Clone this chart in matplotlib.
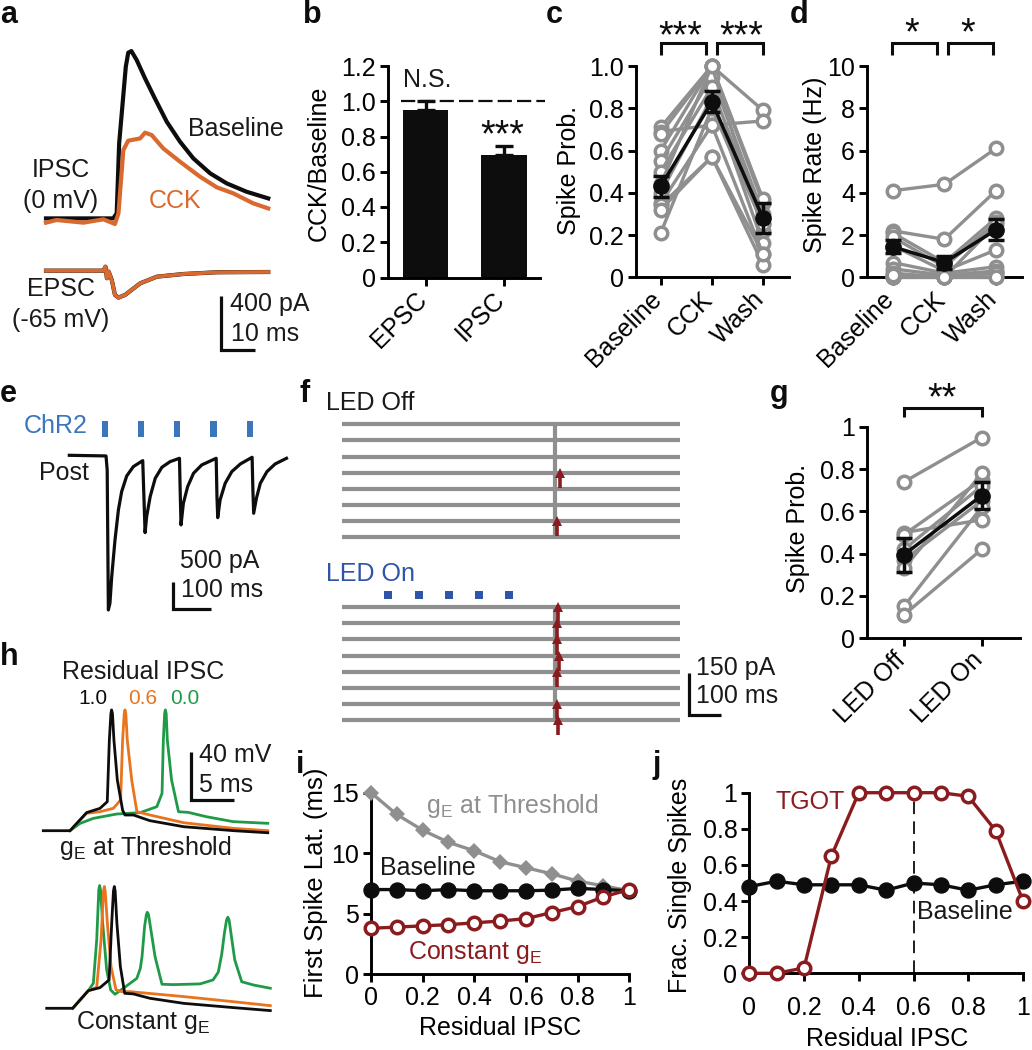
import numpy as np
import matplotlib
matplotlib.use("Agg")
import matplotlib.pyplot as plt
from matplotlib.transforms import ScaledTranslation

FS = 18

plt.rcParams['font.family'] = ['Liberation Sans', 'DejaVu Sans']
plt.rcParams['mathtext.default'] = 'regular'
plt.rcParams['font.size'] = FS
plt.rcParams['axes.linewidth'] = 2.1
plt.rcParams['text.color'] = '#1a1a1a'

W, H = 1032, 1050

BLACK = '#0d0d0d'
GREY = '#8f8f8f'
CCK_ORANGE = '#d9692e'
ORANGE = '#e8741e'
GREEN = '#1f9a48'
RED = '#8a1c20'
BLUE = '#3b75bb'
LED_BLUE = '#2f55a8'

# a: IPSC / EPSC traces (ms, pA)
ipsc_base_t = [0, 19.2, 20.2, 20.9, 22.8, 23.5, 24.4, 25.9, 28.3, 31.1, 34.5, 38.3, 42.1, 46.9, 51.6, 57.3, 63.5]
ipsc_base_v = [12, 12, 50, 575, 1150, 1255, 1267, 1200, 1062, 912, 737, 587, 462, 350, 275, 212, 162]
ipsc_cck_t = [0, 3, 10.7, 16.4, 19.7, 20.7, 22.1, 23.5, 26.9, 28.3, 30.2, 33.5, 38.3, 44, 48.8, 53.5, 59.2, 63.5]
ipsc_cck_v = [-20, 0, -20, 5, -30, 50, 525, 595, 612, 655, 637, 537, 437, 325, 245, 200, 125, 87]
epsc_t = [0, 16.4, 17, 17.4, 17.9, 18.8, 19.7, 20.7, 22.6, 26.9, 31.7, 39.3, 48.8, 63.5]
epsc_v = [0, 0, 30, -57, -7, -70, -182, -202, -182, -95, -45, -25, -12, -10]

# b
b_labels = ['EPSC', 'IPSC']
b_means = [0.95, 0.695]
b_errs = [0.05, 0.05]

# c
c_labels = ['Baseline', 'CCK', 'Wash']
c_baseline = [0.71, 0.69, 0.68, 0.60, 0.55, 0.50, 0.44, 0.40, 0.35, 0.34, 0.32, 0.21]
c_cck = [1.0, 0.72, 1.0, 1.0, 0.95, 0.90, 1.0, 0.85, 0.72, 0.57, 0.57, 0.80]
c_wash = [0.79, 0.74, 0.35, 0.37, 0.30, 0.25, 0.22, 0.16, 0.11, 0.06, 0.11, 0.25]
c_mean = [0.43, 0.83, 0.28]
c_err = [0.05, 0.05, 0.07]

# d
d_baseline = [4.1, 2.2, 2.1, 1.9, 1.5, 0.7, 0.4, 0.2, 0.0, 0.0, 0.0, 0.1]
d_cck = [4.4, 1.8, 0.7, 0.5, 0.3, 0.2, 0.1, 0.0, 0.0, 0.0, 0.0, 0.0]
d_wash = [6.1, 4.1, 2.8, 2.6, 1.3, 0.5, 0.3, 0.2, 0.2, 0.0, 2.5, 0.0]
d_mean = [1.45, 0.7, 2.25]
d_err = [0.3, 0.3, 0.5]

# e: ChR2 train (ms, pA)
e_t = [0, 94, 97, 100, 104, 108.6, 117, 125.7, 134, 147, 164, 188,
       191, 194, 198, 207, 220, 237, 258, 282,
       284, 286, 292, 303, 318, 339, 376,
       378, 380, 386, 399, 416, 438, 468,
       470, 472, 479, 489, 506, 527, 556]
e_v = [0, -12, -275, -2900, -2775, -2275, -1587, -1025, -681, -387, -212, -100,
       -775, -1450, -1150, -775, -431, -225, -119, -56,
       -712, -1306, -900, -587, -337, -181, -56,
       -775, -1169, -837, -525, -306, -162, -37,
       -650, -1087, -806, -525, -306, -162, -56]
e_pulses = [91.5, 183, 276, 369, 462]

# f: raster-like traces, spike time per trial (ms)
f_trials = 8
f_length = 1057
f_stim = 667
f_off_trials = [3, 6]
f_off_spikes = [682, 672]
f_on_trials = [0, 1, 2, 3, 4, 6, 7]
f_on_spikes = [677, 673, 673, 679, 672, 673, 675]
f_led = [146, 240, 335, 429, 524]

# g
g_labels = ['LED Off', 'LED On']
g_off = [0.74, 0.50, 0.49, 0.42, 0.37, 0.33, 0.15, 0.11]
g_on = [0.95, 0.56, 0.75, 0.72, 0.65, 0.78, 0.62, 0.42]
g_mean = [0.395, 0.675]
g_err = [0.08, 0.065]

# h: model spikes (ms, mV above rest)
h1_black_t = [0, 3.08, 5, 6.54, 7.38, 7.62, 7.8, 7.88, 7.98, 8.15, 8.54, 9.15, 9.42, 10.4, 12.3, 16.2, 22, 25.9]
h1_black_v = [0, 0, 15, 18.5, 24, 75, 97, 100, 97, 75, 42, 17, 13, 13, 8.3, 3.3, 0, -1.7]
h1_orange_t = [3.08, 5, 6.54, 8.08, 8.92, 9.15, 9.34, 9.42, 9.52, 9.69, 10.2, 10.8, 12.3, 16.2, 22, 25.9]
h1_orange_v = [0, 14.4, 15.7, 18.5, 25.4, 75, 97, 100, 97, 75, 42, 15.7, 13, 6.6, 1.9, 0]
h1_green_t = [3.08, 4.23, 5.77, 8.46, 11.2, 13.1, 13.7, 13.85, 14, 14.08, 14.18, 14.31, 14.8, 15.6, 16.7, 18.8, 21.9, 25.9]
h1_green_v = [0, 6, 10.2, 13.8, 15, 19.9, 30.9, 75, 97, 100, 97, 75, 42, 15.7, 15.2, 11.6, 7.5, 6.1]
h2_black_t = [0, 3, 4.8, 6.15, 7.2, 7.5, 7.7, 7.8, 7.9, 8.1, 8.5, 9, 10, 11.9, 15.8, 21.5, 25.8]
h2_black_v = [0, 0, 14.6, 17.1, 23.5, 70.4, 97, 100.8, 97, 70.4, 34.5, 12.4, 11.9, 8.3, 4.1, 0.6, -1.9]
h2_orange_t = [3, 4.8, 5.77, 6.27, 6.55, 6.65, 6.75, 7, 7.42, 8, 8.65, 9.6, 15.8, 21.5, 25.8]
h2_orange_v = [0, 14.6, 17.4, 56.6, 97, 100.8, 97, 70.4, 34.5, 15.2, 13.8, 13.8, 9.7, 5.5, 2.2]
h2_green_t = [3, 4.8, 5.38, 5.77, 6.01, 6.11, 6.21, 6.46, 6.92, 7.38, 7.88, 8.85, 10.4, 10.8, 11, 11.3, 11.5, 11.6,
              11.75, 12, 12.5, 13.3, 14.6, 17.7, 19.2, 19.8, 20.2, 20.5, 20.75, 20.9, 21.05, 21.3, 21.7, 22.5, 23.85, 25.8]
h2_green_v = [0, 14.6, 20.7, 56.6, 98, 101.6, 98, 70.4, 31.7, 15.2, 11.6, 16.6, 24.8, 33, 42.8, 68, 77.5, 79.5,
              77.5, 66, 42.8, 19.9, 19.6, 20.2, 23.5, 30, 45, 62, 73, 75.4, 73, 60, 40, 22, 19.3, 16.6]

# i, j
residual = [0, 0.1, 0.2, 0.3, 0.4, 0.5, 0.6, 0.7, 0.8, 0.9, 1.0]
i_threshold = [15, 13.2, 11.9, 10.9, 10.2, 9.3, 8.8, 8.3, 7.7, 7.3, 6.9]
i_baseline = [7, 7, 6.9, 7, 6.9, 6.9, 6.9, 6.95, 7.1, 7, 6.9]
i_constant = [3.8, 3.9, 4, 4.1, 4.25, 4.4, 4.6, 5.1, 5.6, 6.4, 7]
j_tgot = [0, 0, 0.03, 0.65, 1, 1, 1, 1, 0.98, 0.79, 0.4]
j_baseline = [0.48, 0.51, 0.49, 0.49, 0.49, 0.46, 0.5, 0.49, 0.46, 0.49, 0.51]
tick_frac = [0, 0.2, 0.4, 0.6, 0.8, 1]
tick_frac_labels = ['0', '0.2', '0.4', '0.6', '0.8', '1']


fig = plt.figure(figsize=(W / 100, H / 100), dpi=100)

# overlay in pixel units, for labels and scale bars
ov = fig.add_axes([0, 0, 1, 1], zorder=10)
ov.set_xlim(0, W)
ov.set_ylim(H, 0)
ov.axis('off')
ov.patch.set_alpha(0)


def px_axes(left, right, top, bottom):
    return fig.add_axes([left / W, 1 - bottom / H, (right - left) / W, (bottom - top) / H])


def trace_axes(left, right, top, bottom, x0, y0, sx, sy):
    # invisible axes; x0,y0 = pixel of the origin, sx,sy = pixels per unit
    ax = px_axes(left, right, top, bottom)
    ax.set_xlim((left - x0) / sx, (right - x0) / sx)
    ax.set_ylim((y0 - bottom) / sy, (y0 - top) / sy)
    ax.axis('off')
    return ax


def style_axes(ax, ylabel, ylabel_xy, fontsize=FS):
    ax.spines['top'].set_visible(False)
    ax.spines['right'].set_visible(False)
    ax.tick_params(length=5.5, width=2.1, pad=3, labelsize=FS)
    ax.patch.set_alpha(0)
    ax.set_ylabel(ylabel, fontsize=fontsize, va='center')
    ax.yaxis.set_label_coords(ylabel_xy[0], ylabel_xy[1], transform=ov.transData)


def cat_axes(left, right, top, bottom, cat_px, n):
    ax = px_axes(left, right, top, bottom)
    step = (cat_px[-1] - cat_px[0]) / (n - 1)
    ax.set_xlim((left - cat_px[0]) / step, (right - cat_px[0]) / step)
    ax.set_xticks(range(n))
    return ax


def rotated_labels(ax, labels):
    ax.set_xticklabels(labels, rotation=45, ha='right', va='top', rotation_mode='anchor')
    shift = ScaledTranslation(-11 / 100, 2 / 100, fig.dpi_scale_trans)
    for lab in ax.get_xticklabels():
        lab.set_transform(lab.get_transform() + shift)


def bracket(x0, x1, y_top, y_bot):
    ov.plot([x0, x0, x1, x1], [y_bot, y_top, y_top, y_bot], color=BLACK, lw=2.2,
            solid_joinstyle='miter', solid_capstyle='butt')


def stars(x, y, s):
    ov.text(x, y, s, ha='center', va='center', fontsize=27, color=BLACK)


def scalebar(x0, x1, y0, y1):
    ov.plot([x0, x0, x1], [y0, y1, y1], color=BLACK, lw=2.3,
            solid_joinstyle='miter', solid_capstyle='butt')


def paired(ax, series, mean, err):
    data = np.array(series)
    xs = np.arange(data.shape[0])
    for k in range(data.shape[1]):
        ax.plot(xs, data[:, k], '-o', color=GREY, lw=2.4, ms=9, mfc='white', mew=2.5, clip_on=False, zorder=3)
    ax.errorbar(xs, mean, yerr=err, color=BLACK, lw=2.5, marker='o', ms=11, capsize=5.5, capthick=2.5,
                clip_on=False, zorder=5)


for label, x, y in [('a', 0, 23), ('b', 303, 23), ('c', 546, 23), ('d', 790, 23), ('e', 0, 402),
                    ('f', 300, 402), ('g', 770, 402), ('h', 0, 665), ('i', 296, 773), ('j', 652, 773)]:
    ov.text(x, y, label, fontsize=22, fontweight='bold', ha='left', va='baseline', color=BLACK)

# --- a
ax = trace_axes(40, 275, 30, 330, 46, 220, 3.5, 1 / 7.5)
ax.plot(ipsc_base_t, ipsc_base_v, color=BLACK, lw=3)
ax.plot(ipsc_cck_t, ipsc_cck_v, color=CCK_ORANGE, lw=3)
ax.plot(epsc_t, np.array(epsc_v) - 380, color=BLACK, lw=3)
ax.plot(epsc_t, np.array(epsc_v) - 380, color=CCK_ORANGE, lw=2.7)
ov.text(236, 129, 'Baseline', ha='center', va='center')
ov.text(61, 170, 'IPSC', ha='center', va='center')
ov.text(61, 201, '(0 mV)', ha='center', va='center')
ov.text(175, 201, 'CCK', ha='center', va='center', color=CCK_ORANGE)
ov.text(61, 289, 'EPSC', ha='center', va='center')
ov.text(61, 320, '(-65 mV)', ha='center', va='center')
scalebar(221, 255, 296, 350)
ov.text(230, 304, '400 pA', ha='left', va='center')
ov.text(231, 334, '10 ms', ha='left', va='center')

# --- b
ax = cat_axes(388, 540, 66, 277.5, [425.7, 504], 2)
ax.bar(range(2), b_means, width=0.577, color=BLACK)
ax.errorbar(range(2), b_means, yerr=[[0, 0], b_errs], fmt='none', ecolor=BLACK, elinewidth=2.4, capsize=6.5, capthick=2.4)
ax.plot([-0.31, 1.52], [1, 1], color=BLACK, lw=1.6, dashes=(6.4, 2.3), clip_on=False)
ax.set_ylim(0, 1.2)
ax.set_yticks([0, 0.2, 0.4, 0.6, 0.8, 1.0, 1.2])
ax.set_yticklabels(['0', '0.2', '0.4', '0.6', '0.8', '1.0', '1.2'])
style_axes(ax, 'CCK/Baseline', (319, 163))
rotated_labels(ax, b_labels)
ov.text(427, 80, 'N.S.', ha='center', va='center')
stars(502, 136, '***')

# --- c
ax = cat_axes(636, 789, 66, 277.3, [660.7, 711.7, 763], 3)
ax.set_ylim(0, 1)
paired(ax, [c_baseline, c_cck, c_wash], c_mean, c_err)
ax.set_yticks([0, 0.2, 0.4, 0.6, 0.8, 1.0])
ax.set_yticklabels(['0', '0.2', '0.4', '0.6', '0.8', '1.0'])
style_axes(ax, 'Spike Prob.', (569, 170))
rotated_labels(ax, c_labels)
bracket(660.7, 705.7, 43.3, 55)
bracket(716.7, 762.7, 43.3, 55)
stars(680, 37, '***')
stars(741.7, 37, '***')

# --- d
ax = cat_axes(866.7, 1021.7, 66, 277.3, [892.7, 944, 996], 3)
ax.set_ylim(0, 10)
paired(ax, [d_baseline, d_cck, d_wash], d_mean, d_err)
ax.set_yticks([0, 2, 4, 6, 8, 10])
style_axes(ax, 'Spike Rate (Hz)', (815, 165))
rotated_labels(ax, c_labels)
bracket(891.7, 936.7, 43.3, 55)
bracket(948.3, 993.3, 43.3, 55)
stars(912, 34, '*')
stars(968, 34, '*')

# --- e
ax = trace_axes(60, 295, 410, 620, 69.3, 455.3, 1 / 2.56, 1 / 18.75)
ax.plot(e_t, e_v, color=BLACK, lw=2.3, solid_joinstyle='round')
ax.bar(e_pulses, 300, width=16, bottom=350, color=BLUE)
ov.text(56, 426, 'ChR2', ha='center', va='center', color=BLUE)
ov.text(64, 473, 'Post', ha='center', va='center')
ov.text(220, 561, '500 pA', ha='center', va='center')
ov.text(222, 590, '100 ms', ha='center', va='center')
scalebar(172.7, 210.7, 581.5, 608.5)

# --- f
f_row_step = 48.35 / 3
f_on_offset = 11.35
ax = trace_axes(335, 690, 395, 745, 341.7, 424.3, 0.32, -f_row_step)
rows_off = np.arange(f_trials)
rows_on = rows_off + f_on_offset
ax.hlines(np.r_[rows_off, rows_on], 0, f_length, color=GREY, lw=3)
ax.vlines(f_stim, rows_off[0], rows_off[-1], color=GREY, lw=3)
ax.vlines(f_stim, rows_on[0], rows_on[-1], color=GREY, lw=3)
for rows, trials, spikes in [(rows_off, f_off_trials, f_off_spikes), (rows_on, f_on_trials, f_on_spikes)]:
    tops = rows[trials]
    ax.vlines(spikes, tops, tops + 0.95, color=RED, lw=2.6)
    ax.plot(spikes, tops, '^', color=RED, ms=7, mew=0)
ax.plot(f_led, [f_on_offset - 0.74] * len(f_led), 's', color=LED_BLUE, ms=5.8, mew=0)
ov.text(326, 403, 'LED Off', ha='left', va='center')
ov.text(326, 574, 'LED On', ha='left', va='center', color=LED_BLUE)
scalebar(689, 720.5, 673, 714.5)
ov.text(696, 668, '150 pA', ha='left', va='center')
ov.text(696, 696, '100 ms', ha='left', va='center')

# --- g
ax = cat_axes(866.7, 1020, 427, 638, [904, 981.7], 2)
ax.set_ylim(0, 1)
paired(ax, [g_off, g_on], g_mean, g_err)
ax.set_yticks([0, 0.2, 0.4, 0.6, 0.8, 1])
ax.set_yticklabels(['0', '0.2', '0.4', '0.6', '0.8', '1'])
style_axes(ax, 'Spike Prob.', (798, 528))
rotated_labels(ax, g_labels)
bracket(904.3, 981.7, 408.3, 416.7)
stars(941.7, 399, '**')

# --- h
ax = trace_axes(35, 275, 700, 840, 43.3, 830.7, 8.667, 1.208)
ax.plot(h1_green_t, h1_green_v, color=GREEN, lw=2)
ax.plot(h1_orange_t, h1_orange_v, color=ORANGE, lw=2)
ax.plot(h1_black_t, h1_black_v, color=BLACK, lw=2)
ax = trace_axes(35, 275, 870, 1018, 46.7, 1008.3, 8.667, 1.208)
ax.plot(h2_green_t, h2_green_v, color=GREEN, lw=2)
ax.plot(h2_orange_t, h2_orange_v, color=ORANGE, lw=2)
ax.plot(h2_black_t, h2_black_v, color=BLACK, lw=2)
ov.text(143, 672, 'Residual IPSC', ha='center', va='center')
ov.text(93, 698, '1.0', ha='center', va='center', fontsize=15, color=BLACK)
ov.text(143, 698, '0.6', ha='center', va='center', fontsize=15, color=ORANGE)
ov.text(185, 698, '0.0', ha='center', va='center', fontsize=15, color=GREEN)
scalebar(190.7, 234, 751.7, 799.5)
ov.text(199, 755, '40 mV', ha='left', va='center')
ov.text(199, 785, '5 ms', ha='left', va='center')
ov.text(145, 848, r'g$_{E}$ at Threshold', ha='center', va='center')
ov.text(143, 1023, r'Constant g$_{E}$', ha='center', va='center')

# --- i
ax = px_axes(371, 629.3, 792.7, 974.3)
ax.plot(residual, i_threshold, '-D', color=GREY, lw=2.4, ms=8.5, mew=0, clip_on=False, zorder=3)
ax.plot(residual, i_baseline, '-o', color=BLACK, lw=2.4, ms=10.8, clip_on=False, zorder=4)
ax.plot(residual, i_constant, '-o', color=RED, lw=2.4, ms=9, mfc='white', mew=2.5, clip_on=False, zorder=5)
ax.set_xlim(0, 1)
ax.set_ylim(0, 15)
ax.set_yticks([0, 5, 10, 15])
ax.set_xticks(tick_frac)
ax.set_xticklabels(tick_frac_labels)
style_axes(ax, 'First Spike Lat. (ms)', (316, 883), fontsize=18.5)
ax.set_xlabel('Residual IPSC', fontsize=FS, va='center')
ax.xaxis.set_label_coords(500, 1028, transform=ov.transData)
ov.text(512, 806, r'g$_{E}$ at Threshold', ha='center', va='center', color=GREY)
ov.text(428, 868, 'Baseline', ha='center', va='center')
ov.text(475, 952, r'Constant g$_{E}$', ha='center', va='center', color=RED)

# --- j
ax = px_axes(749.3, 1023, 792.7, 973.3)
ax.plot([0.6, 0.6], [0, 0.97], color=BLACK, lw=1.3, dashes=(7, 4), zorder=2)
ax.plot(residual, j_baseline, '-o', color=BLACK, lw=2.4, ms=10.8, clip_on=False, zorder=4)
ax.plot(residual, j_tgot, '-o', color=RED, lw=2.4, ms=9, mfc='white', mew=2.5, clip_on=False, zorder=5)
ax.set_xlim(0, 1)
ax.set_ylim(0, 1)
ax.set_yticks(tick_frac)
ax.set_yticklabels(tick_frac_labels)
ax.set_xticks(tick_frac)
ax.set_xticklabels(tick_frac_labels)
style_axes(ax, 'Frac. Single Spikes', (680, 885))
ax.tick_params(axis='x', pad=11)
ax.set_xlabel('Residual IPSC', fontsize=FS, va='center')
ax.xaxis.set_label_coords(887, 1039, transform=ov.transData)
ov.text(810, 802, 'TGOT', ha='center', va='center', color=RED)
ov.text(965, 912, 'Baseline', ha='center', va='center')

fig.savefig('out.png', dpi=100)
